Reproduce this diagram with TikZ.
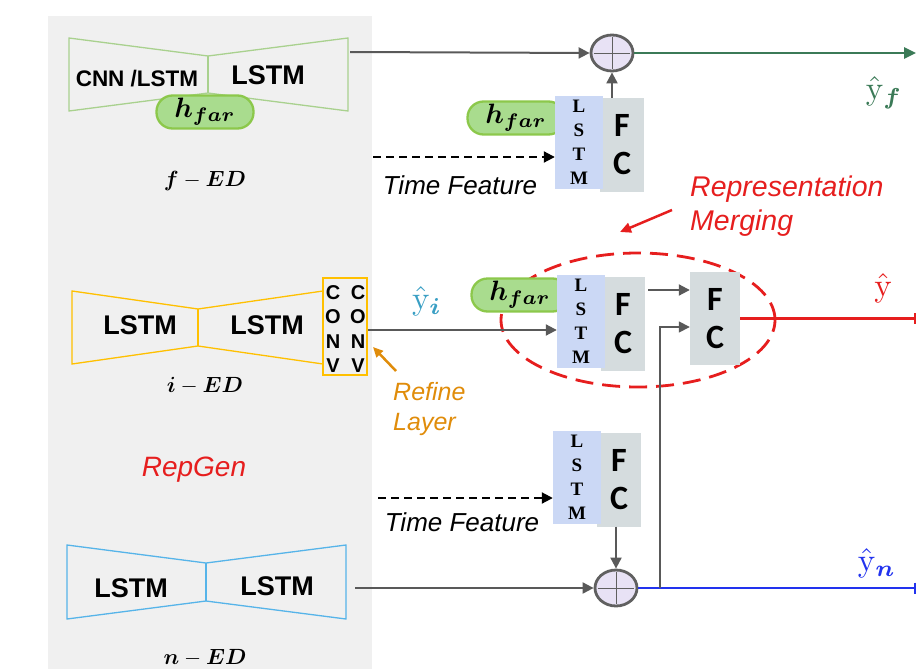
\documentclass[tikz,border=0pt]{standalone}
\usepackage{amsmath}
\usepackage{bm}
\usepackage{graphicx}
\usepackage{fontspec}
\newfontfamily\arialfont{Liberation Sans}
\newfontfamily\calibfont{Carlito}
\newfontfamily\timesfont{Liberation Serif}
\usetikzlibrary{arrows.meta,shapes.geometric}
\newcommand{\mbig}[2]{\scalebox{#1}{$#2$}}
\definecolor{panel}{HTML}{F0F0F0}
\definecolor{edgreen}{HTML}{A9D18E}
\definecolor{edyellow}{HTML}{FFC000}
\definecolor{edblue}{HTML}{56B4E9}
\definecolor{pillfill}{HTML}{A9DC8E}
\definecolor{pillline}{HTML}{8CC84B}
\definecolor{lstmfill}{HTML}{CBD8F5}
\definecolor{fcfill}{HTML}{D5DCDE}
\definecolor{plusfill}{HTML}{E8E2F5}
\definecolor{plusline}{HTML}{606060}
\definecolor{lineg}{HTML}{595959}
\definecolor{outgreen}{HTML}{3B7A57}
\definecolor{outred}{HTML}{E61E1E}
\definecolor{outblue}{HTML}{2233EE}
\definecolor{orangeref}{HTML}{E08C0A}
\definecolor{tealy}{HTML}{3A9FC4}
\tikzset{
  edline/.style={line width=1.3pt, line join=miter},
  bigsans/.style={font=\arialfont\bfseries\fontsize{27}{30}\selectfont, inner sep=0pt},
  pill/.style={draw=pillline, fill=pillfill, line width=2.3pt, rounded corners=16pt,
    minimum width=97pt, minimum height=33pt, inner sep=0pt},
  lstmbox/.style={fill=lstmfill, minimum width=48pt, minimum height=93pt, inner sep=0pt,
    align=center, font=\timesfont\bfseries\fontsize{19}{24}\selectfont},
  fcbox/.style={fill=fcfill, minimum width=44pt, minimum height=94pt, inner sep=0pt,
    align=center, font=\calibfont\bfseries\fontsize{34}{38}\selectfont},
  plus/.style={ellipse, draw=plusline, fill=plusfill, line width=2.8pt,
    minimum width=42pt, minimum height=36pt, inner sep=0pt},
  arr/.style={draw=lineg, line width=2pt, -{Triangle[length=11pt,width=11pt]}},
  darr/.style={draw=black, line width=2pt, dash pattern=on 8pt off 5pt,
    -{Triangle[length=11pt,width=11pt]}},
  tfeat/.style={font=\arialfont\itshape\fontsize{26}{30}\selectfont, inner sep=0pt},
  edlabel/.style={inner sep=0pt},
  ylabel/.style={inner sep=0pt},
  convtxt/.style={align=center, inner sep=0pt, font=\arialfont\bfseries\fontsize{20}{24.5}\selectfont}
}
\begin{document}
\begin{tikzpicture}[x=1pt,y=-1pt]
\useasboundingbox (0,0) rectangle (917,669);
\fill[panel] (48,16) rectangle (372,669);

% ---------- f-ED ----------
\draw[edgreen, edline] (69,38) -- (208,56) -- (348,38) -- (348,111) -- (208,93) -- (69,111) -- cycle;
\draw[edgreen, edline] (208,56) -- (208,93);
\node[bigsans, font=\arialfont\bfseries\fontsize{22.5}{24}\selectfont] (fenc) at (137,79) {CNN /LSTM};
\node[bigsans] (fdec) at (268,75) {LSTM};
\node[pill] (fh) at (205,112) {\mbig{2.8}{\bm{h_{far}}}};
\node[edlabel] (fed) at (205,181) {\mbig{2.2}{\bm{f}-\bm{ED}}};
\coordinate (fout) at (350,52);

\node[plus] (p1) at (612,53) {};
\draw[plusline, line width=0.8pt, shorten <=3pt, shorten >=3pt] (p1.north) -- (p1.south);
\draw[plusline, line width=0.8pt, shorten <=4pt, shorten >=4pt] (p1.west) -- (p1.east);
\draw[arr] (fout) -- (p1.west);
\coordinate (yfend) at (916,53);
\draw[outgreen, line width=2.5pt, -{Triangle[length=12pt,width=11pt]}] (p1.east) -- (yfend);
\node[ylabel, text=outgreen] (yf) at (884,93) {\mbig{3.3}{\hat{\mathrm{y}}_{\bm{f}}}};

\node[pill] (h1) at (516,118) {\mbig{2.8}{\bm{h_{far}}}};
\node[fcbox] (c1) at (622,145) {F\\C};
\node[lstmbox] (l1) at (579,142.5) {L\\S\\T\\M};
\draw[arr] (p1 |- c1.north) -- (p1.south);
\coordinate (tf1) at (373,157);
\draw[darr] (tf1) -- (tf1 -| l1.west);
\node[tfeat] (t1) at (460,185) {Time Feature};

% ---------- i-ED ----------
\draw[edyellow, edline] (72,291) -- (198,309) -- (323,291) -- (323,364) -- (198,346) -- (72,364) -- cycle;
\draw[edyellow, edline] (198,309) -- (198,346);
\node[draw=edyellow, line width=1.3pt, minimum width=44pt, minimum height=97pt, inner sep=0pt] (conv) at (345,326.5) {};
\node[convtxt] (cv1) at (333,329) {C\\O\\N\\V};
\node[convtxt] (cv2) at (358,329) {C\\O\\N\\V};
\node[bigsans] (ienc) at (140,325) {LSTM};
\node[bigsans] (idec) at (267,325) {LSTM};
\node[edlabel] (ied) at (205,386) {\mbig{2.2}{\bm{i}-\bm{ED}}};
\node[ylabel, text=tealy] (yi) at (427,301) {\mbig{3.3}{\hat{\mathrm{y}}_{\bm{i}}}};

\node[draw=outred, ellipse, line width=2.8pt, dash pattern=on 18pt off 9pt,
  minimum width=274pt, minimum height=134pt] (merge) at (638,320) {};

\node[pill] (h2) at (520,295) {\mbig{2.8}{\bm{h_{far}}}};
\node[fcbox] (c2) at (623,324) {F\\C};
\node[lstmbox] (l2) at (581,321.5) {L\\S\\T\\M};
\node[fcbox, minimum width=50pt, minimum height=93pt] (m) at (715,318.5) {F\\C};

\coordinate (ci) at (368,330);
\draw[arr] (ci) -- (ci -| l2.west);
\draw[arr, shorten <=3pt] (c2.east |- 0,290) -- (m.west |- 0,290);

\draw[outred, line width=2.5pt, -{Bar[width=11pt,line width=2pt]}] (m.east) -- (916,318.5);
\node[ylabel, text=outred] (yhat) at (883,288) {\mbig{3.3}{\hat{\mathrm{y}}}};

\node[anchor=west, align=left, text=outred, inner sep=0pt,
  font=\arialfont\itshape\fontsize{28.5}{34}\selectfont] (rm) at (690,206) {Representation\\Merging};
\coordinate (rmt) at (672,210);
\coordinate (rmh) at (620,232);
\draw[outred, line width=2.5pt, -{Triangle[length=11pt,width=10pt]}] (rmt) -- (rmh);

\node[text=orangeref, anchor=west, align=left, inner sep=0pt,
  font=\arialfont\itshape\fontsize{25}{30}\selectfont] (ref) at (393,409) {Refine\\Layer};
\coordinate (reft) at (396,371);
\coordinate (refh) at (373,347);
\draw[orangeref, line width=2.5pt, -{Triangle[length=10pt,width=9pt]}] (reft) -- (refh);

\node[text=outred, inner sep=0pt, font=\arialfont\itshape\fontsize{28}{32}\selectfont] (rg) at (194,470) {RepGen};

% ---------- n-ED ----------
\draw[edblue, edline] (67,545) -- (206,563) -- (346,545) -- (346,619) -- (206,601) -- (67,619) -- cycle;
\draw[edblue, edline] (206,563) -- (206,601);
\node[bigsans] (nenc) at (131,588) {LSTM};
\node[bigsans] (ndec) at (277,586) {LSTM};
\node[edlabel] (ned) at (205,658) {\mbig{2.2}{\bm{n}-\bm{ED}}};
\coordinate (nout) at (355,588);

\node[fcbox] (c3) at (619,479.5) {F\\C};
\node[lstmbox] (l3) at (577,477.5) {L\\S\\T\\M};
\coordinate (tf2) at (378,498);
\draw[darr] (tf2) -- (tf2 -| l3.west);
\node[tfeat] (t2) at (462,522) {Time Feature};

\node[plus] (p2) at (616,588) {};
\draw[plusline, line width=0.8pt, shorten <=3pt, shorten >=3pt] (p2.north) -- (p2.south);
\draw[plusline, line width=0.8pt, shorten <=4pt, shorten >=4pt] (p2.west) -- (p2.east);
\draw[arr] (p2 |- c3.south) -- (p2.north);
\draw[arr] (nout) -- (p2.west);
\draw[outblue, line width=2.5pt, -{Bar[width=11pt,line width=2pt]}] (p2.east) -- (916,588);
\node[ylabel, text=outblue] (yn) at (877,563) {\mbig{3.3}{\hat{\mathrm{y}}_{\bm{n}}}};

\coordinate (j) at (660,588);
\draw[draw=lineg, line width=1.6pt, -{Triangle[length=11pt,width=11pt]}] (j) |- (m.west |- 0,327);
\end{tikzpicture}
\end{document}
